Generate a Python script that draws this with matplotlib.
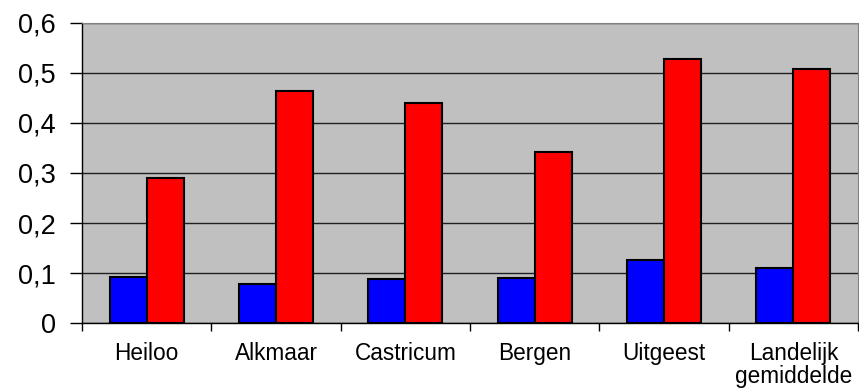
import numpy as np
import matplotlib
matplotlib.use('Agg')
import matplotlib.pyplot as plt

plt.rcParams['font.family'] = ['Liberation Sans', 'DejaVu Sans']

# gemeenten en de twee reeksen
plaatsen = ['Heiloo', 'Alkmaar', 'Castricum', 'Bergen', 'Uitgeest', 'Landelijk\ngemiddelde']
reeks_blauw = [0.092, 0.078, 0.088, 0.090, 0.126, 0.110]
reeks_rood = [0.291, 0.464, 0.440, 0.342, 0.528, 0.507]
y_ticks = [0, 0.1, 0.2, 0.3, 0.4, 0.5, 0.6]
y_labels = ['0', '0,1', '0,2', '0,3', '0,4', '0,5', '0,6']

fig = plt.figure(figsize=(8.59, 3.90), dpi=100)
ax = fig.add_axes([82/859, 1-323.3/390, (858-82)/859, (323.3-22.7)/390])
ax.set_facecolor('#c0c0c0')

x = np.arange(len(plaatsen))
w = 0.286
ax.bar(x - w/2, reeks_blauw, w, color='#0000ff', edgecolor='black', linewidth=1.5, zorder=3)
ax.bar(x + w/2, reeks_rood, w, color='#ff0000', edgecolor='black', linewidth=1.5, zorder=3)

ax.set_xlim(-0.5, len(plaatsen) - 0.5)
ax.set_ylim(0, 0.6)
ax.set_yticks(y_ticks)
ax.set_yticklabels(y_labels, fontsize=19.5)
ax.yaxis.grid(True, color='#202020', linewidth=1.0, zorder=1)
ax.set_axisbelow(True)

# categorie-labels midden, tickstreepjes op de grenzen
ax.set_xticks(x)
ax.set_xticklabels(plaatsen, fontsize=16.3, linespacing=1.0)
ax.tick_params(axis='x', which='major', length=0, pad=13.5)
ax.set_xticks(np.arange(len(plaatsen) + 1) - 0.5, minor=True)
ax.tick_params(axis='x', which='minor', length=6, width=1, color='black')
ax.tick_params(axis='y', length=9, width=1, pad=10)

for s in ['top', 'right']:
    ax.spines[s].set_color('#808080')
for s in ['left', 'bottom']:
    ax.spines[s].set_color('black')
    ax.spines[s].set_linewidth(1.0)

fig.savefig('out.png', dpi=100)
